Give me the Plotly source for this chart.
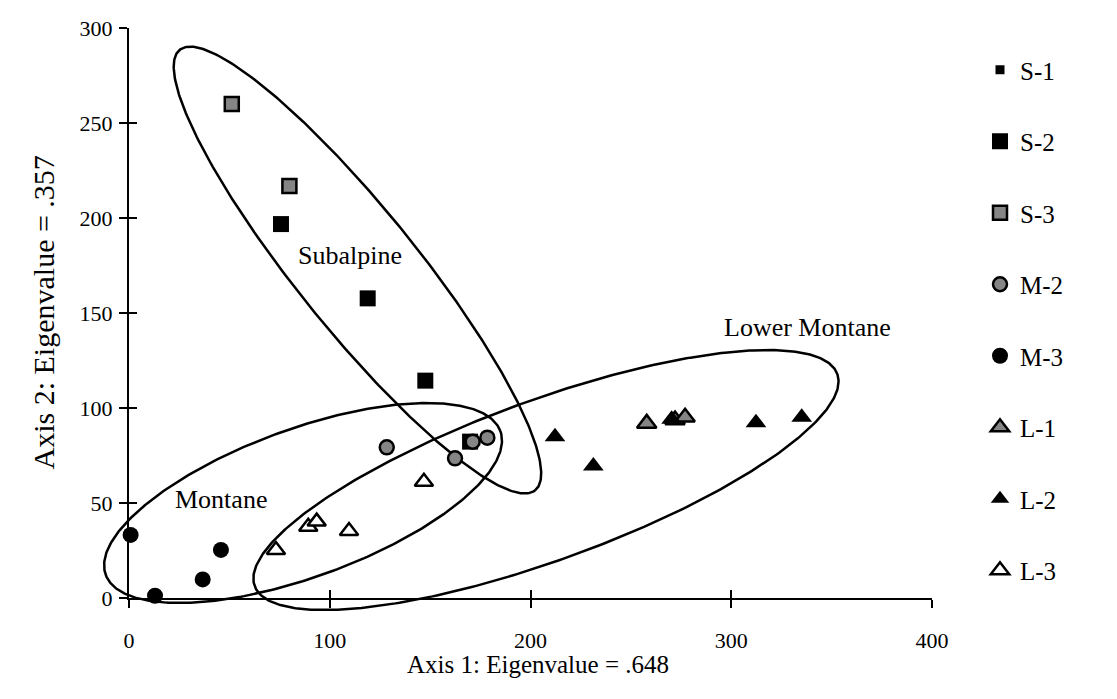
import numpy as np
import plotly.graph_objects as go

# ---------------- data ----------------
s1_x, s1_y = [None], [None]
s2_x = [75.7, 118.9, 147.6, 169.9]
s2_y = [196.8, 157.7, 114.4, 82.3]
s3_x = [51.2, 79.9]
s3_y = [260.0, 216.8]
m2_x = [128.4, 162.4, 171.2, 178.5]
m2_y = [79.3, 73.5, 82.3, 84.4]
m3_x = [0.8, 12.95, 36.7, 45.8]
m3_y = [33.2, 1.2, 9.8, 25.3]
l1_x = [257.9, 272.0, 277.0]
l1_y = [91.9, 93.7, 95.1]
l2_x = [212.2, 231.3, 270.3, 312.3, 335.1]
l2_y = [84.9, 69.5, 94.1, 92.3, 95.1]
l3_x = [73.2, 89.3, 93.5, 109.6, 146.9]
l3_y = [25.3, 37.5, 40.2, 35.3, 61.2]

x_ticks = [0, 100, 200, 300, 400]
y_ticks = [0, 50, 100, 150, 200, 250, 300]

group_names = ["Subalpine", "Montane", "Lower Montane"]
group_cx = [113.8, 86.7, 207.7]
group_cy = [172.6, 50.0, 62.1]
label_x = [110.1, 45.8, 338.0]
label_y = [180.5, 51.6, 142.6]

# ellipse geometry (screen pixels / degrees)
ell_a = [283, 210, 310]
ell_b = [60, 74, 80]
ell_ang = [-51.1, 20.0, 20.0]

# ---------------- layout geometry ----------------
W, H = 1117, 699
ML, MR, MT, MB = 80, 185, 28, 80
PW, PH = W - ML - MR, H - MT - MB
dx0 = 49 / PW
dy0 = 21 / PH
XR = [0, 400]
YR = [0, 300]
ppx = (1 - dx0) * PW / (XR[1] - XR[0])
ppy = (1 - dy0) * PH / (YR[1] - YR[0])
x2r = [XR[0] - dx0 * PW / ppx, XR[1]]
y2r = [YR[0] - dy0 * PH / ppy, YR[1]]

FONT = "Liberation Serif"
fig = go.Figure()

t = np.linspace(0, 2 * np.pi, 400)
for cx, cy, a, b, ang in zip(group_cx, group_cy, ell_a, ell_b, ell_ang):
    th = np.deg2rad(ang)
    ex = cx + (a * np.cos(t) * np.cos(th) - b * np.sin(t) * np.sin(th)) / ppx
    ey = cy + (a * np.cos(t) * np.sin(th) + b * np.sin(t) * np.cos(th)) / ppy
    fig.add_trace(go.Scatter(x=ex, y=ey, mode="lines", xaxis="x2", yaxis="y2",
                             line=dict(color="black", width=2.5),
                             showlegend=False, hoverinfo="skip"))

GRAY = "#858585"
series = [
    ("S-1", s1_x, s1_y, dict(symbol="square", size=9, color="black")),
    ("S-2", s2_x, s2_y, dict(symbol="square", size=16, color="black")),
    ("S-3", s3_x, s3_y, dict(symbol="square", size=14, color=GRAY, line=dict(color="black", width=2.5))),
    ("M-2", m2_x, m2_y, dict(symbol="circle", size=14, color=GRAY, line=dict(color="black", width=2.5))),
    ("M-3", m3_x, m3_y, dict(symbol="circle", size=16, color="black")),
    ("L-1", l1_x, l1_y, dict(symbol="triangle-up", size=17, color=GRAY, line=dict(color="black", width=2.5))),
    ("L-2", l2_x, l2_y, dict(symbol="triangle-up", size=18, color="black")),
    ("L-3", l3_x, l3_y, dict(symbol="triangle-up", size=16, color="white", line=dict(color="black", width=2.5))),
]
for name, xs, ys, mk in series:
    fig.add_trace(go.Scatter(x=xs, y=ys, mode="markers", name=name, marker=mk,
                             xaxis="x2", yaxis="y2", legendgroup=name,
                             cliponaxis=False))

# empty traces so that the visible axes are created
fig.add_trace(go.Scatter(x=[None], y=[None], xaxis="x", yaxis="y", showlegend=False, hoverinfo="skip"))
fig.add_trace(go.Scatter(x=[None], y=[None], xaxis="x3", yaxis="y3", showlegend=False, hoverinfo="skip"))

for name, lx, ly in zip(group_names, label_x, label_y):
    fig.add_annotation(x=lx, y=ly, xref="x2", yref="y2", text=name, showarrow=False,
                       font=dict(family=FONT, size=26, color="black"))

axis_common = dict(showgrid=False, zeroline=False, linecolor="black",
                   tickcolor="black", tickwidth=2, ticklen=8)
fig.update_layout(
    width=W, height=H,
    margin=dict(l=ML, r=MR, t=MT, b=MB, autoexpand=False),
    paper_bgcolor="white", plot_bgcolor="rgba(0,0,0,0)",
    font=dict(family=FONT, size=21, color="black"),
    xaxis=dict(domain=[dx0, 1], range=XR, tickvals=x_ticks, ticks="outside", showline=True, linewidth=2,
               anchor="y", ticklabelstandoff=14, tickfont=dict(size=22), **axis_common),
    yaxis=dict(domain=[dy0, 1], range=YR, tickvals=y_ticks, ticks="outside", showline=True, linewidth=2,
               anchor="x", ticklabelstandoff=2, tickfont=dict(size=22), **axis_common),
    xaxis3=dict(overlaying="x", range=XR, tickvals=x_ticks, ticks="inside", showticklabels=False,
                showline=False, anchor="y3", side="bottom", **axis_common),
    yaxis3=dict(overlaying="y", range=YR, tickvals=y_ticks, ticks="inside", showticklabels=False,
                showline=False, anchor="x3", side="left", **axis_common),
    xaxis2=dict(domain=[0, 1], range=x2r, visible=False, anchor="y2"),
    yaxis2=dict(domain=[0, 1], range=y2r, visible=False, anchor="x2"),
    legend=dict(x=(980 - ML) / PW, xanchor="left", y=(H - MB - 47) / PH, yanchor="top",
                font=dict(family=FONT, size=25), tracegroupgap=36, bgcolor="rgba(0,0,0,0)"),
    showlegend=True,
)
fig.add_annotation(text="Axis 1: Eigenvalue = .648", xref="paper", yref="paper",
                   x=(538 - ML) / PW, y=-(680 - (H - MB)) / PH, showarrow=False,
                   font=dict(family=FONT, size=25))
fig.add_annotation(text="Axis 2: Eigenvalue = .357", xref="paper", yref="paper", textangle=-90,
                   x=(24 - ML) / PW, y=dy0 + (1 - dy0) / 2, showarrow=False,
                   font=dict(family=FONT, size=30))

fig.write_html("out.html")
